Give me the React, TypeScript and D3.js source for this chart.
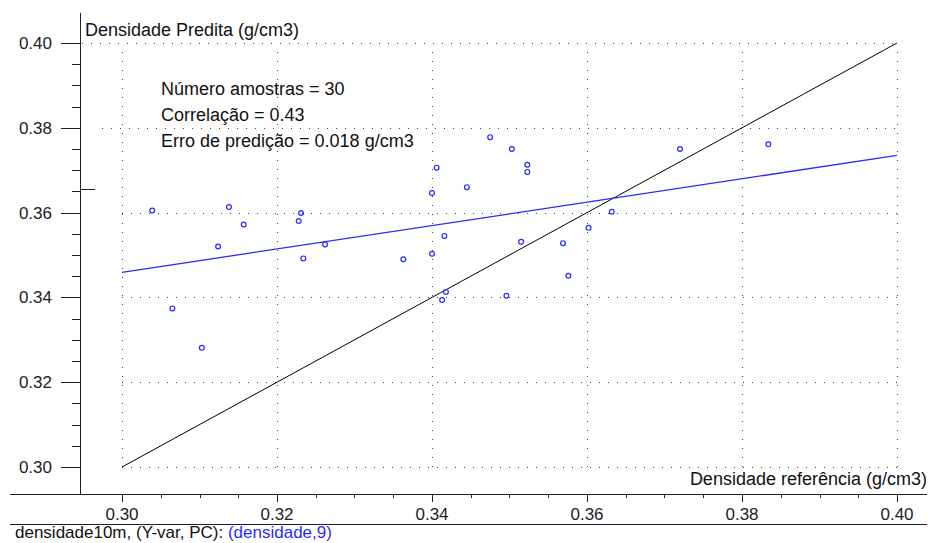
import React from 'react';
import * as d3 from 'd3';

const refX = [0.3039, 0.3065, 0.3103, 0.3124, 0.3138, 0.3157, 0.3228, 0.3231, 0.3234, 0.3262,
  0.3363, 0.3400, 0.3400, 0.3406, 0.3416, 0.3418, 0.3413, 0.3445, 0.3475, 0.3496,
  0.3503, 0.3515, 0.3523, 0.3523, 0.3569, 0.3576, 0.3602, 0.3632, 0.3720, 0.3834];
const predY = [0.3605, 0.3374, 0.3281, 0.3520, 0.3613, 0.3572, 0.3580, 0.3599, 0.3492, 0.3525,
  0.3490, 0.3503, 0.3646, 0.3706, 0.3545, 0.3413, 0.3394, 0.3660, 0.3778, 0.3404,
  0.3750, 0.3531, 0.3713, 0.3696, 0.3528, 0.3451, 0.3564, 0.3602, 0.3750, 0.3761];
const xTicks = [0.30, 0.32, 0.34, 0.36, 0.38, 0.40];
const yTicks = [0.30, 0.32, 0.34, 0.36, 0.38, 0.40];
const tickLabels = ['0.30', '0.32', '0.34', '0.36', '0.38', '0.40'];
const regressionLine: [number, number][] = [[0.30, 0.3459], [0.40, 0.3735]];
const identityLine: [number, number][] = [[0.30, 0.30], [0.40, 0.40]];
const meanMarker = 0.3656;
const infoLines = ['Número amostras = 30', 'Correlação = 0.43', 'Erro de predição = 0.018 g/cm3'];
const yTitle = 'Densidade Predita (g/cm3)';
const xTitle = 'Densidade referência (g/cm3)';
const footerBlack = 'densidade10m, (Y-var, PC): ';
const footerBlue = '(densidade,9)';

const W = 928;
const H = 543;
const FONT = '"Liberation Sans", Arial, sans-serif';
const AXIS = '#222';
const BLUE = '#2a2aff';

export default function App() {
  const x = d3.scaleLinear().domain([0.30, 0.40]).range([122, 897]);
  const y = d3.scaleLinear().domain([0.30, 0.40]).range([467, 43]);
  const axisX = 80;
  const axisY = 494;
  const minor = d3.range(0, 21).map((i) => 0.30 + i * 0.005);
  const line = d3.line<[number, number]>().x((d) => x(d[0])).y((d) => y(d[1]));
  const pts = refX.map((v, i) => [v, predY[i]]);

  return (
    <svg width={W} height={H} style={{ position: 'absolute', left: 0, top: 0, background: '#fff' }}
      fontFamily={FONT}>
      <rect width={W} height={H} fill="#fff" />
      {/* grid */}
      <g stroke="#444" strokeWidth={1} strokeDasharray="1 8" fill="none">
        {xTicks.map((t) => (
          <line key={'gx' + t} x1={Math.round(x(t)) + 0.5} x2={Math.round(x(t)) + 0.5} y1={y(0.40) + 9} y2={y(0.30)} />
        ))}
        {yTicks.map((t) => (
          <line key={'gy' + t} x1={t >= 0.399 ? axisX + 2 : t >= 0.379 ? 102 : x(0.30)} x2={x(0.40) + 1}
            y1={Math.round(y(t)) + 0.5} y2={Math.round(y(t)) + 0.5} />
        ))}
      </g>
      {/* axes */}
      <g stroke={AXIS} strokeWidth={1} shapeRendering="crispEdges">
        <line x1={axisX + 0.5} x2={axisX + 0.5} y1={13} y2={axisY} />
        <line x1={10} x2={927} y1={axisY + 0.5} y2={axisY + 0.5} />
        <line x1={10} x2={927} y1={524.5} y2={524.5} />
        {minor.map((t, i) => (
          <line key={'ym' + i} x1={i % 4 === 0 ? 61 : 72} x2={axisX} y1={Math.round(y(t)) + 0.5} y2={Math.round(y(t)) + 0.5} />
        ))}
        {minor.map((t, i) => (
          <line key={'xm' + i} x1={Math.round(x(t)) + 0.5} x2={Math.round(x(t)) + 0.5} y1={axisY} y2={i % 4 === 0 ? 502 : 498} />
        ))}
        <line x1={axisX} x2={95} y1={Math.round(y(meanMarker)) + 0.5} y2={Math.round(y(meanMarker)) + 0.5} />
      </g>
      {/* tick labels */}
      <g fontSize={17} fill="#222">
        {yTicks.map((t, i) => (
          <text key={'yl' + t} x={52} y={y(t) + 6} textAnchor="end">{tickLabels[i]}</text>
        ))}
        {xTicks.map((t, i) => (
          <text key={'xl' + t} x={x(t)} y={520} textAnchor="middle">{tickLabels[i]}</text>
        ))}
      </g>
      {/* lines */}
      <path d={line(identityLine) || ''} stroke="#000" strokeWidth={1} fill="none" />
      <path d={line(regressionLine) || ''} stroke={BLUE} strokeWidth={1.3} fill="none" />
      {/* points */}
      <g stroke={BLUE} strokeWidth={1.2} fill="none">
        {pts.map((p, i) => (
          <circle key={'p' + i} cx={x(p[0])} cy={y(p[1])} r={2.4} />
        ))}
      </g>
      {/* texts */}
      <g fontSize={18} fill="#111">
        <text x={85} y={36}>{yTitle}</text>
        {infoLines.map((s, i) => (
          <text key={'info' + i} x={161} y={95 + i * 26}>{s}</text>
        ))}
        <text x={927} y={485} textAnchor="end">{xTitle}</text>
      </g>
      <text x={15} y={538} fontSize={17} fill="#111">
        {footerBlack}
        <tspan fill={BLUE}>{footerBlue}</tspan>
      </text>
    </svg>
  );
}
